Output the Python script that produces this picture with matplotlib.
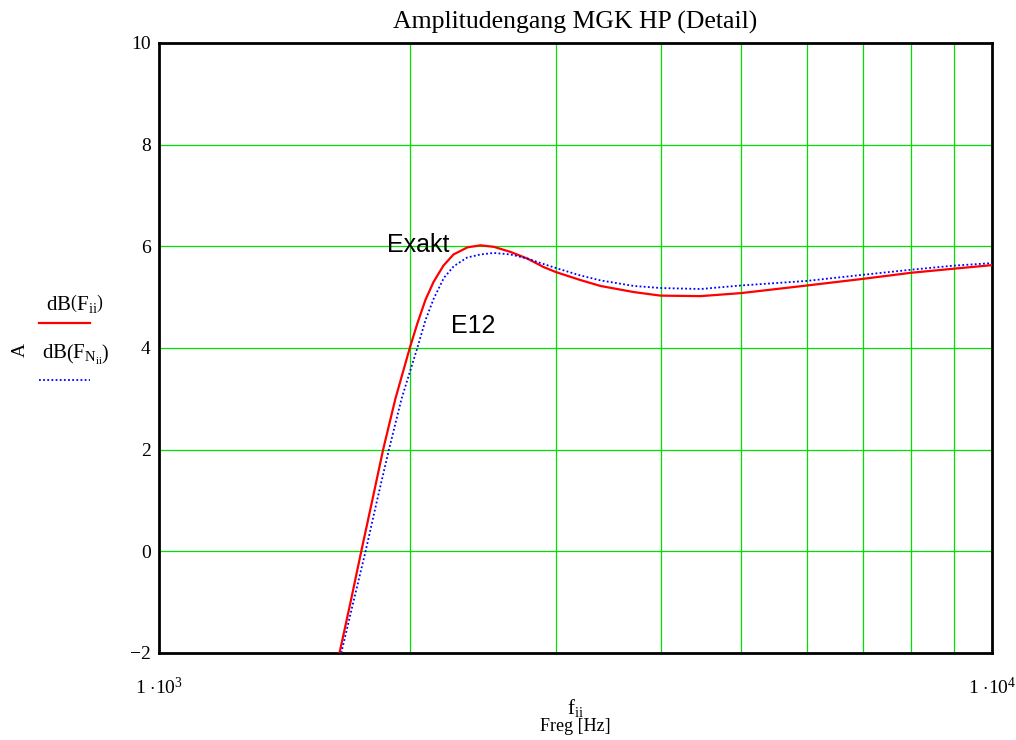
import matplotlib
matplotlib.use('Agg')
import matplotlib.pyplot as plt
from matplotlib.lines import Line2D

plt.rcParams['font.family'] = 'Liberation Serif'
plt.rcParams['mathtext.fontset'] = 'custom'
plt.rcParams['mathtext.rm'] = 'Liberation Serif'
plt.rcParams['mathtext.it'] = 'Liberation Serif'

# Exakt (red)
f_exakt = [1647, 1698, 1749, 1803, 1858, 1922, 2000, 2044, 2089, 2136, 2195,
           2257, 2346, 2432, 2523, 2642, 2767, 2897, 3000, 3200, 3388, 3715,
           4000, 4467, 5000, 6000, 7000, 8000, 9000, 10000]
a_exakt = [-2.0, -1.0, 0.0, 1.0, 2.0, 3.0, 4.0, 4.5, 4.95, 5.3, 5.62,
           5.84, 5.98, 6.02, 5.99, 5.89, 5.76, 5.59, 5.49, 5.34, 5.22, 5.10,
           5.03, 5.02, 5.08, 5.23, 5.36, 5.48, 5.56, 5.63]

# E12 (blue dotted)
f_e12 = [1655, 1711, 1770, 1827, 1888, 1955, 2042, 2089, 2138, 2198, 2259,
         2344, 2432, 2523, 2642, 2767, 2897, 3000, 3200, 3388, 3715, 4000,
         4467, 5000, 6000, 7000, 8000, 9000, 10000]
a_e12 = [-2.0, -1.0, 0.0, 1.0, 2.0, 3.0, 4.0, 4.55, 4.98, 5.38, 5.61,
         5.78, 5.84, 5.87, 5.84, 5.76, 5.65, 5.57, 5.43, 5.33, 5.22, 5.18,
         5.16, 5.23, 5.32, 5.44, 5.54, 5.62, 5.67]

y_ticks = [-2, 0, 2, 4, 6, 8, 10]
y_ticklabels = ['\u22122', '0', '2', '4', '6', '8', '10']
x_ticks = [1000, 10000]
x_ticklabels = [r'$1\ {\cdot}10^{3}$', r'$1\ {\cdot}10^{4}$']
grid_x = [2000, 3000, 4000, 5000, 6000, 7000, 8000, 9000]

fig = plt.figure(figsize=(10.16, 7.4), dpi=100)
ax = fig.add_axes([0.1565, 0.1176, 0.8199, 0.8243])

green = '#00e000'
for gx in grid_x:
    ax.axvline(gx, color=green, lw=0.9, zorder=1)
for gy in y_ticks[1:-1]:
    ax.axhline(gy, color=green, lw=0.9, zorder=1)

dots = (0, (1, 1.3))
ax.plot(f_exakt, a_exakt, color='red', lw=1.6, zorder=3)
ax.plot(f_e12, a_e12, color='blue', lw=1.3, linestyle=dots, zorder=3)

ax.set_xscale('log')
ax.set_xlim(1000, 10000)
ax.set_ylim(-2, 10)
ax.set_yticks(y_ticks)
ax.set_yticklabels(y_ticklabels, fontsize=14)
ax.set_xticks(x_ticks)
ax.set_xticklabels(x_ticklabels, fontsize=14)
ax.minorticks_off()
ax.tick_params(length=0)
ax.tick_params(axis='y', pad=6)
ax.tick_params(axis='x', pad=17)
for s in ax.spines.values():
    s.set_linewidth(2)
    s.set_color('black')

ax.text(1878, 6.03, 'Exakt', family='Liberation Sans', fontsize=18,
        ha='left', va='center')
ax.text(2239, 4.44, 'E12', family='Liberation Sans', fontsize=18,
        ha='left', va='center')

fig.text(0.5664, 0.970, 'Amplitudengang MGK HP (Detail)', fontsize=18.5,
         ha='center', va='center')
fig.text(0.5664, 0.043, r'$\mathrm{f}_{\mathrm{ii}}$', fontsize=15,
         ha='center', va='center')
fig.text(0.5664, 0.018, 'Freg [Hz]', fontsize=13, ha='center', va='center')

# left side legend
fig.text(0.020, 0.527, 'A', fontsize=14, rotation=90, ha='center', va='center')
fig.text(0.074, 0.590, r'$\mathrm{dB}\left(\mathrm{F}_{\mathrm{ii}}\right)$',
         fontsize=15, ha='center', va='center')
fig.add_artist(Line2D([0.038, 0.089], [0.564, 0.564], color='red', lw=1.6))
fig.text(0.075, 0.522,
         r'$\mathrm{dB}\left(\mathrm{F}_{\mathrm{N}_{\mathrm{ii}}}\right)$',
         fontsize=15, ha='center', va='center')
fig.add_artist(Line2D([0.038, 0.089], [0.487, 0.487], color='blue', lw=1.3,
                      linestyle=dots))

fig.savefig('out.png', dpi=100)
